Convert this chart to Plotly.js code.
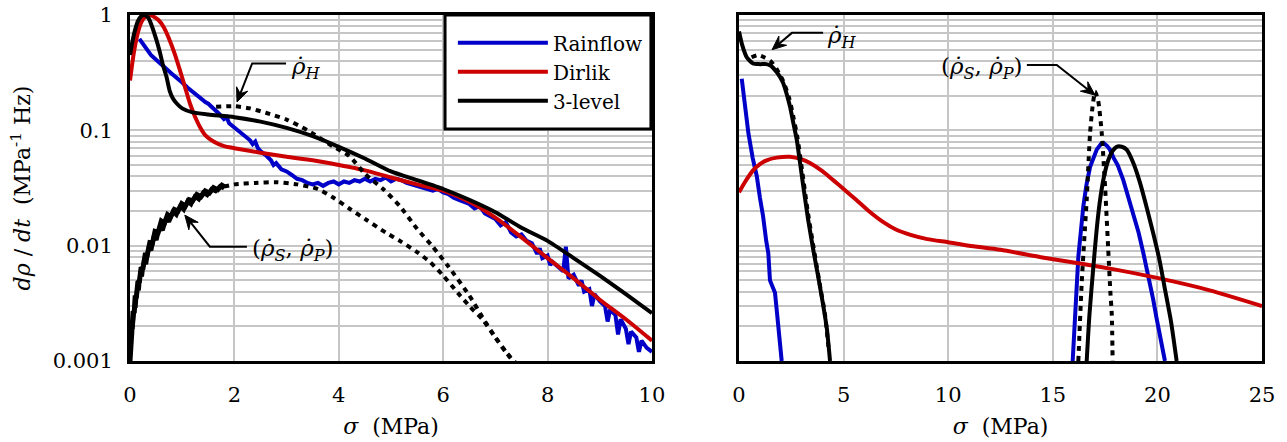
<!DOCTYPE html>
<html>
<head>
<meta charset="utf-8">
<script src="https://cdn.plot.ly/plotly-3.0.1.min.js"></script>
<style>
  html, body { margin: 0; padding: 0; background: #fff; }
  #chart { width: 1287px; height: 442px; }
</style>
</head>
<body>
<div id="chart"></div>
<script>
// ---- Left panel: damage rate spectra, sigma 0..10 MPa ----
const rainSigL = [0.18,0.3,0.4,0.5,0.6,0.7,0.8,0.9,1.0,1.1,1.2,1.3,1.4,1.45,1.5,1.6,1.7,1.8,1.85,1.9,2.0,2.1,2.2,2.3,2.35,2.4,2.45,2.5,2.6,2.7,2.75,2.8,2.9,3.0,3.1,3.2,3.3,3.4,3.5,3.6,3.7,3.8,3.9,4.0,4.1,4.2,4.3,4.4,4.5,4.6,4.7,4.8,4.9,5.0,5.1,5.2,5.3,5.4,5.5,5.6,5.7,5.8,5.9,6.0,6.1,6.2,6.3,6.4,6.5,6.6,6.7,6.8,6.9,7.0,7.1,7.2,7.3,7.4,7.5,7.6,7.7,7.8,7.85,7.9,8.0,8.05,8.1,8.2,8.3,8.35,8.4,8.5,8.6,8.65,8.7,8.8,8.85,8.9,9.0,9.1,9.15,9.2,9.3,9.35,9.4,9.5,9.55,9.6,9.7,9.75,9.8,9.9,10.0];
const rainValL = [0.62,0.52,0.45,0.41,0.37,0.34,0.31,0.28,0.26,0.235,0.215,0.20,0.18,0.175,0.17,0.155,0.14,0.125,0.13,0.115,0.105,0.098,0.088,0.082,0.076,0.080,0.070,0.066,0.061,0.055,0.050,0.052,0.046,0.044,0.041,0.038,0.037,0.035,0.034,0.035,0.033,0.035,0.036,0.034,0.036,0.035,0.037,0.036,0.038,0.036,0.038,0.037,0.039,0.036,0.038,0.037,0.035,0.034,0.033,0.032,0.031,0.030,0.031,0.029,0.028,0.026,0.025,0.024,0.023,0.021,0.022,0.019,0.018,0.017,0.015,0.016,0.013,0.012,0.0125,0.011,0.0105,0.0085,0.0095,0.0078,0.0082,0.0068,0.0072,0.0065,0.0060,0.0098,0.0052,0.0056,0.0045,0.0050,0.0040,0.0042,0.0030,0.0038,0.0033,0.0030,0.0022,0.0028,0.0025,0.0017,0.0023,0.0019,0.0014,0.0018,0.0016,0.0012,0.0015,0.0013,0.0012];

const dirSigL = [0,0.05,0.1,0.15,0.2,0.25,0.3,0.38,0.45,0.55,0.65,0.75,0.85,0.95,1.05,1.15,1.25,1.35,1.45,1.6,1.8,2.0,2.5,3.0,3.5,4.0,4.5,5.0,5.5,6.0,6.5,7.0,7.5,8.0,8.5,9.0,9.5,10.0];
const dirValL = [0.27,0.40,0.55,0.70,0.83,0.92,0.97,1.0,0.97,0.90,0.78,0.62,0.47,0.34,0.24,0.17,0.13,0.105,0.090,0.080,0.073,0.070,0.064,0.059,0.055,0.050,0.045,0.039,0.034,0.030,0.024,0.0175,0.0118,0.0078,0.0052,0.0034,0.0023,0.0015];

const lvlSigL = [0,0.05,0.1,0.15,0.2,0.27,0.35,0.42,0.5,0.57,0.63,0.7,0.76,0.82,0.9,1.0,1.2,1.5,2.0,2.5,3.0,3.5,4.0,4.5,5.0,5.5,6.0,6.5,7.0,7.5,8.0,8.5,9.0,9.5,10.0];
const lvlValL = [0.45,0.60,0.75,0.88,0.96,1.0,0.95,0.80,0.62,0.48,0.37,0.29,0.22,0.19,0.17,0.155,0.143,0.137,0.130,0.119,0.105,0.089,0.072,0.057,0.044,0.037,0.031,0.025,0.0195,0.0143,0.011,0.0078,0.0055,0.0038,0.0026];

// hysteresis term rho_H (dotted)
const hSigL = [1.65,2.0,2.3,2.6,3.0,3.4,3.9,4.2,4.5,4.85,5.17,5.5,5.8,6.1,6.5,6.75,7.0,7.2,7.4];
const hValL = [0.16,0.162,0.155,0.142,0.124,0.10,0.072,0.060,0.042,0.031,0.022,0.014,0.0098,0.0066,0.0037,0.0024,0.0016,0.0012,0.00095];

// sampled rho_S and rho_P at low stress (scattered estimates)
const sSigL = [0.00,0.02,0.04,0.06,0.08,0.10,0.12,0.15,0.18,0.21,0.25,0.29,0.33,0.38,0.43,0.48,0.54,0.60,0.66,0.72,0.78,0.85,0.92,0.99,1.06,1.13,1.20,1.28,1.36,1.44,1.52,1.60,1.68,1.76,1.82];
const sValL = [0.0010,0.0017,0.0017,0.0027,0.0026,0.0037,0.0035,0.0048,0.0049,0.0063,0.0064,0.0083,0.0083,0.0106,0.0105,0.0133,0.0131,0.0163,0.0156,0.0186,0.0178,0.0206,0.0200,0.0231,0.0220,0.0250,0.0245,0.0278,0.0266,0.0298,0.0286,0.0318,0.0306,0.0335,0.0322];
const pSigL = [0.01,0.03,0.05,0.07,0.09,0.11,0.14,0.17,0.20,0.23,0.27,0.31,0.36,0.41,0.46,0.51,0.57,0.63,0.69,0.75,0.82,0.89,0.96,1.03,1.10,1.17,1.24,1.32,1.40,1.48,1.56,1.64,1.72,1.80];
const pValL = [0.0013,0.0022,0.0019,0.0029,0.0030,0.0030,0.0045,0.0041,0.0060,0.0054,0.0077,0.0069,0.0098,0.0091,0.0124,0.0112,0.0147,0.0136,0.0174,0.0161,0.0197,0.0184,0.0219,0.0204,0.0243,0.0228,0.0267,0.0251,0.0289,0.0274,0.0309,0.0296,0.0327,0.0314];
// fitted (rho_S, rho_P) tail (dotted)
const spSigL = [1.8,2.0,2.4,2.8,3.2,3.6,3.9,4.2,4.54,4.9,5.17,5.5,5.75,6.0,6.28,6.5,6.75,7.0,7.2,7.35];
const spValL = [0.0325,0.034,0.035,0.0355,0.034,0.031,0.026,0.021,0.0166,0.013,0.011,0.0088,0.0072,0.0055,0.0039,0.0030,0.0023,0.0016,0.0012,0.00098];

// ---- Right panel: sigma 0..25 MPa ----
const rainSigR1 = [0.13,0.3,0.45,0.65,0.85,1.0,1.15,1.3,1.4,1.48,1.6,1.72,1.8,1.87,2.04];
const rainValR1 = [0.28,0.15,0.094,0.058,0.040,0.026,0.018,0.011,0.0086,0.0050,0.0044,0.0039,0.0028,0.0020,0.0010];
const rainSigR2 = [15.95,16.1,16.22,16.46,16.6,16.78,17.0,17.1,17.3,17.45,17.6,17.73,17.9,18.1,18.37,18.6,18.85,19.1,19.33,19.55,19.8,19.95,20.1,20.25,20.36];
const rainValR2 = [0.0010,0.0038,0.0080,0.022,0.033,0.048,0.063,0.068,0.076,0.077,0.073,0.068,0.058,0.050,0.037,0.027,0.019,0.013,0.0086,0.0058,0.0034,0.0024,0.0017,0.0013,0.0010];

const dirSigR = [0,0.3,0.67,1.0,1.32,1.8,2.44,3.0,3.39,4.0,4.5,5.0,5.6,6.2,6.9,7.5,8.2,9.0,10.0,11.0,12.5,14.5,16.3,18.0,20.1,22.5,25.0];
const dirValR = [0.029,0.036,0.045,0.051,0.055,0.058,0.059,0.056,0.052,0.044,0.037,0.031,0.025,0.020,0.016,0.0138,0.0124,0.0114,0.0107,0.0100,0.0092,0.0079,0.0070,0.0062,0.0052,0.0041,0.0030];

const lvlSigR1 = [0,0.15,0.37,0.67,1.0,1.3,1.5,1.8,2.1,2.3,2.44,2.6,2.76,2.9,3.07,3.3,3.55,3.8,4.03,4.2,4.35];
const lvlValR1 = [0.72,0.55,0.43,0.38,0.375,0.375,0.365,0.32,0.26,0.20,0.16,0.115,0.083,0.055,0.033,0.017,0.0092,0.0052,0.0030,0.0019,0.0010];
const lvlSigR2 = [16.62,16.75,16.94,17.1,17.26,17.45,17.65,17.85,18.05,18.3,18.53,18.85,19.17,19.5,19.8,20.1,20.36,20.65,20.92];
const lvlValR2 = [0.0010,0.0025,0.0066,0.014,0.025,0.040,0.055,0.066,0.072,0.072,0.068,0.052,0.035,0.021,0.0128,0.0075,0.0042,0.0022,0.0010];

const hSigR = [0.6,0.9,1.2,1.5,1.8,2.1,2.4,2.6,2.8,3.0,3.3,3.6,3.9,4.1,4.3];
const hValR = [0.43,0.45,0.43,0.40,0.34,0.27,0.19,0.13,0.085,0.047,0.019,0.0088,0.0042,0.0026,0.0012];
const spSigR = [16.22,16.38,16.5,16.62,16.78,16.9,17.02,17.17,17.34,17.5,17.65,17.75,17.82,17.86];
const spValR = [0.0010,0.0047,0.011,0.025,0.094,0.16,0.216,0.18,0.094,0.032,0.0092,0.0040,0.0025,0.0010];

const xTicksLeft = [0, 2, 4, 6, 8, 10];
const xTicksRight = [0, 5, 10, 15, 20, 25];

const BLUE = '#0000c8', RED = '#cc0000', BLACK = '#000000';
const LW = 4;
const DOTS = '5px,5px';
const SERIF = 'DejaVu Serif';

function line(x, y, color, axes, opts) {
  return Object.assign({
    type: 'scatter', mode: 'lines', x: x, y: y,
    xaxis: axes[0], yaxis: axes[1],
    line: { color: color, width: LW },
    showlegend: false, hoverinfo: 'skip'
  }, opts || {});
}
const smooth = (c, dash) => ({ line: { color: c, width: LW, shape: 'spline', smoothing: 0.6, dash: dash || 'solid' } });
const L = ['x', 'y'], R = ['x2', 'y2'];

const traces = [
  line(rainSigL, rainValL, BLUE, L, { name: 'Rainflow', showlegend: true, legendrank: 1 }),
  line(dirSigL, dirValL, RED, L, Object.assign({ name: 'Dirlik', showlegend: true, legendrank: 2 }, smooth(RED))),
  line(sSigL, sValL, BLACK, L, { line: { color: BLACK, width: 5 } }),
  line(pSigL, pValL, BLACK, L, { line: { color: BLACK, width: 4 } }),
  line(spSigL, spValL, BLACK, L, smooth(BLACK, DOTS)),
  line(hSigL, hValL, BLACK, L, smooth(BLACK, DOTS)),
  line(lvlSigL, lvlValL, BLACK, L, Object.assign({ name: '3-level', showlegend: true, legendrank: 3 }, smooth(BLACK))),

  line(rainSigR1, rainValR1, BLUE, R),
  line(rainSigR2, rainValR2, BLUE, R),
  line(dirSigR, dirValR, RED, R, smooth(RED)),
  line(hSigR, hValR, BLACK, R, smooth(BLACK, DOTS)),
  line(spSigR, spValR, BLACK, R, smooth(BLACK, DOTS)),
  line(lvlSigR1, lvlValR1, BLACK, R, smooth(BLACK)),
  line(lvlSigR2, lvlValR2, BLACK, R, smooth(BLACK))
];

const GRID = '#c6c6c6';

function xAxis(domain, range, ticks, anchor) {
  return {
    domain: domain, range: range, anchor: anchor,
    tickmode: 'array', tickvals: ticks,
    showgrid: true, gridcolor: GRID, gridwidth: 2,
    zeroline: false, showline: true, linecolor: BLACK, linewidth: 3, mirror: true,
    ticks: '', ticklabelstandoff: 13,
    tickfont: { family: SERIF, size: 21, color: BLACK },
    title: { text: '<i>σ</i>  (MPa)', font: { family: SERIF, size: 22, color: BLACK }, standoff: 13 }
  };
}
function yAxis(anchor, labels) {
  return {
    type: 'log', range: [-3, 0], anchor: anchor, domain: [0, 1],
    tickmode: 'linear', tick0: 0, dtick: 1, exponentformat: 'none',
    showticklabels: labels,
    showgrid: true, gridcolor: GRID, gridwidth: 2,
    minor: { dtick: 'D1', showgrid: true, gridcolor: GRID, gridwidth: 2, ticks: '' },
    zeroline: false, showline: true, linecolor: BLACK, linewidth: 3, mirror: true,
    ticks: '', ticklabelstandoff: 10,
    tickfont: { family: SERIF, size: 21, color: BLACK }
  };
}

// Leader lines for the curve labels, placed in each panel's domain fractions.
const PANEL = {
  x:  { xref: 'x domain',  yref: 'y domain',  smax: 10, wpx: 522, hpx: 346 },
  x2: { xref: 'x2 domain', yref: 'y2 domain', smax: 25, wpx: 523, hpx: 346 }
};
function frac(p, s, v) { return [s / p.smax, (Math.log10(v) + 3) / 3]; }
function leaderShapes(panelKey, tip, bend, textEnd) {
  const p = PANEL[panelKey];
  const T = frac(p, tip[0], tip[1]), B = frac(p, bend[0], bend[1]), E = frac(p, textEnd[0], textEnd[1]);
  let dx = (T[0] - B[0]) * p.wpx, dy = (T[1] - B[1]) * p.hpx;
  const len = Math.hypot(dx, dy); dx /= len; dy /= len;
  const nx = -dy, ny = dx;
  const headL = 14, headW = 6, notch = 9;
  const pt = (a, b) => [T[0] + (a * dx + b * nx) / p.wpx, T[1] + (a * dy + b * ny) / p.hpx];
  const back = pt(-notch, 0), s1 = pt(-headL, headW), s2 = pt(-headL, -headW);
  const shaft = pt(-notch + 1, 0);
  return [
    { type: 'path', xref: p.xref, yref: p.yref,
      path: `M${E[0]},${E[1]} L${B[0]},${B[1]} L${shaft[0]},${shaft[1]}`,
      line: { color: BLACK, width: 2 } },
    { type: 'path', xref: p.xref, yref: p.yref,
      path: `M${T[0]},${T[1]} L${s1[0]},${s1[1]} L${back[0]},${back[1]} L${s2[0]},${s2[1]} Z`,
      fillcolor: BLACK, line: { color: BLACK, width: 1 } }
  ];
}

const labelFont = { family: SERIF, size: 23, color: BLACK };
const rhoH = '<i>ρ̇</i><sub><i>H</i></sub>';
const rhoSP = '(<i>ρ̇</i><sub><i>S</i></sub>, <i>ρ̇</i><sub><i>P</i></sub>)';
const lg = Math.log10;

// Legend frame (drawn as a shape so it can be taller than the legend rows)
const legendFrame = {
  type: 'rect', xref: 'paper', yref: 'paper', layer: 'above',
  x0: 0.2783, x1: 0.4602, y0: 0.6705, y1: 1.0,
  fillcolor: '#ffffff', line: { color: BLACK, width: 3 }
};

const shapes = [legendFrame].concat(
  leaderShapes('x', [2.05, 0.176], [2.34, 0.38], [2.99, 0.38]),
  leaderShapes('x', [1.05, 0.0184], [1.53, 0.0098], [2.24, 0.0098]),
  leaderShapes('x2', [1.58, 0.50], [2.53, 0.70], [4.02, 0.70]),
  leaderShapes('x2', [17.02, 0.202], [15.19, 0.368], [13.76, 0.368])
);

const annotations = [
  { xref: 'x', yref: 'y', x: 3.05, y: lg(0.35), xanchor: 'left', yanchor: 'middle', text: rhoH, showarrow: false, font: labelFont },
  { xref: 'x', yref: 'y', x: 2.3, y: lg(0.0092), xanchor: 'left', yanchor: 'middle', text: rhoSP, showarrow: false, font: labelFont },
  { xref: 'x2', yref: 'y2', x: 4.1, y: lg(0.64), xanchor: 'left', yanchor: 'middle', text: rhoH, showarrow: false, font: labelFont },
  { xref: 'x2', yref: 'y2', x: 13.65, y: lg(0.345), xanchor: 'right', yanchor: 'middle', text: rhoSP, showarrow: false, font: labelFont }
];

const layout = {
  width: 1287, height: 442,
  margin: { l: 130, r: 25, t: 15, b: 81 },
  paper_bgcolor: '#ffffff', plot_bgcolor: '#ffffff',
  font: { family: SERIF, color: BLACK },
  showlegend: true,
  legend: {
    x: 0.4575, xanchor: 'right', y: 0.976, yanchor: 'top',
    bgcolor: 'rgba(0,0,0,0)', borderwidth: 0,
    font: { family: SERIF, size: 20, color: BLACK },
    itemwidth: 90, tracegroupgap: 0
  },
  xaxis: xAxis([0, 0.4611], [0, 10], xTicksLeft, 'y'),
  yaxis: Object.assign(yAxis('x', true), {
    title: { text: '<i>dρ</i> / <i>dt</i>  (MPa<sup>-1</sup> Hz)', font: { family: SERIF, size: 22, color: BLACK }, standoff: 16 }
  }),
  xaxis2: xAxis([0.538, 1], [0, 25], xTicksRight, 'y2'),
  yaxis2: yAxis('x2', false),
  shapes: shapes,
  annotations: annotations
};

Plotly.newPlot('chart', traces, layout, { displayModeBar: false, staticPlot: true });
</script>
</body>
</html>
